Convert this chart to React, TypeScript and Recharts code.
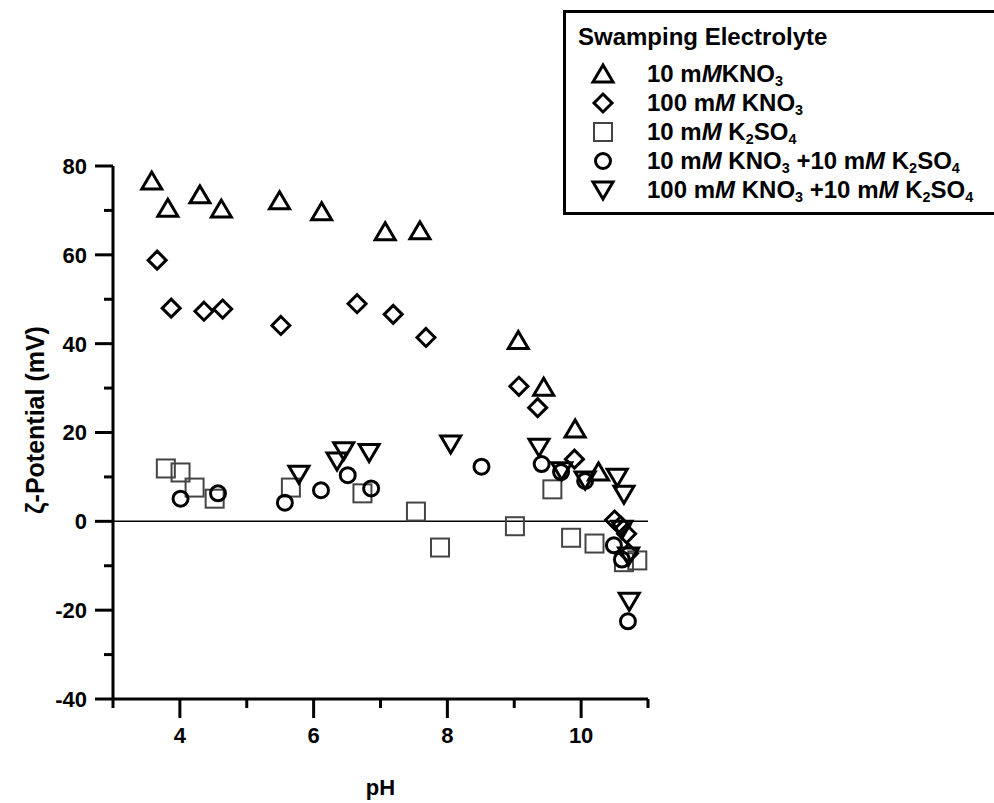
import React from 'react';
import {
  ScatterChart,
  Scatter,
  XAxis,
  YAxis,
  ReferenceLine,
  Legend,
} from 'recharts';

// 10 mM KNO3
const kno3LowPH = [3.58, 3.82, 4.3, 4.62, 5.49, 6.12, 7.07, 7.59, 9.06, 9.44, 9.91, 10.26];
const kno3LowZeta = [76.6, 70.5, 73.5, 70.3, 72.2, 69.7, 65.2, 65.4, 40.7, 30.2, 20.8, 11.1];

// 100 mM KNO3
const kno3HighPH = [3.66, 3.87, 4.36, 4.64, 5.51, 6.65, 7.19, 7.68, 9.07, 9.35, 9.9, 10.5, 10.59, 10.68, 10.71];
const kno3HighZeta = [58.8, 48.0, 47.3, 47.8, 44.1, 49.0, 46.6, 41.4, 30.4, 25.6, 14.0, 0.3, -1.0, -2.8, -7.2];

// 10 mM K2SO4
const k2so4PH = [3.79, 4.01, 4.22, 4.52, 5.66, 6.73, 7.53, 7.89, 9.01, 9.57, 9.85, 10.2, 10.64, 10.84];
const k2so4Zeta = [11.9, 11.0, 7.6, 5.1, 7.6, 6.3, 2.2, -5.9, -1.1, 7.2, -3.7, -5.0, -9.2, -8.8];

// 10 mM KNO3 + 10 mM K2SO4
const mixLowPH = [4.01, 4.57, 5.57, 6.11, 6.51, 6.86, 8.51, 9.41, 9.7, 10.06, 10.49, 10.61, 10.7];
const mixLowZeta = [5.1, 6.3, 4.2, 7.0, 10.4, 7.4, 12.3, 12.9, 11.1, 9.1, -5.4, -8.6, -22.5];

// 100 mM KNO3 + 10 mM K2SO4
const mixHighPH = [5.78, 6.35, 6.45, 6.83, 8.05, 9.37, 9.71, 10.06, 10.54, 10.64, 10.61, 10.71, 10.72];
const mixHighZeta = [10.6, 13.6, 15.9, 15.5, 17.4, 16.7, 11.4, 9.3, 9.9, 6.1, -1.8, -7.8, -18.0];

const xTicks = [3, 4, 5, 6, 7, 8, 9, 10, 11];
const yTicks = [-40, -30, -20, -10, 0, 10, 20, 30, 40, 50, 60, 70, 80];

const FONT = '"Liberation Sans", Arial, sans-serif';

const toPoints = (xs: number[], ys: number[]) => xs.map((x, i) => ({ x, y: ys[i] }));

type MarkerKind = 'up' | 'diamond' | 'square' | 'circle' | 'down';

function Marker({ kind, cx, cy }: { kind: MarkerKind; cx: number; cy: number }) {
  const common = { fill: 'none', stroke: '#000', strokeWidth: 3, strokeLinejoin: 'miter' as const };
  switch (kind) {
    case 'up':
      return <polygon points={`${cx},${cy - 9} ${cx - 10},${cy + 8} ${cx + 10},${cy + 8}`} {...common} />;
    case 'down':
      return <polygon points={`${cx - 10},${cy - 8} ${cx + 10},${cy - 8} ${cx},${cy + 9}`} {...common} />;
    case 'diamond':
      return <polygon points={`${cx},${cy - 9} ${cx + 9},${cy} ${cx},${cy + 9} ${cx - 9},${cy}`} {...common} />;
    case 'square':
      return <rect x={cx - 9} y={cy - 9} width={18} height={18} fill="none" stroke="#444" strokeWidth={2} />;
    default:
      return <circle cx={cx} cy={cy} r={7.5} {...common} />;
  }
}

const shapeOf = (kind: MarkerKind) => (props: any) => <Marker kind={kind} cx={props.cx} cy={props.cy} />;

const legendRows: { kind: MarkerKind; label: React.ReactNode }[] = [
  { kind: 'up', label: <>10 m<i>M</i>KNO<sub>3</sub></> },
  { kind: 'diamond', label: <>100 m<i>M</i> KNO<sub>3</sub></> },
  { kind: 'square', label: <>10 m<i>M</i> K<sub>2</sub>SO<sub>4</sub></> },
  { kind: 'circle', label: <>10 m<i>M</i> KNO<sub>3</sub> +10 m<i>M</i> K<sub>2</sub>SO<sub>4</sub></> },
  { kind: 'down', label: <>100 m<i>M</i> KNO<sub>3</sub> +10 m<i>M</i> K<sub>2</sub>SO<sub>4</sub></> },
];

const subStyle = `.lg sub{font-size:0.6em;vertical-align:-0.3em;line-height:0}`;

function LegendBox() {
  return (
    <div
      className="lg"
      style={{
        borderTop: '3px solid #000',
        borderLeft: '3px solid #000',
        borderBottom: '3px solid #000',
        background: '#fff',
        padding: '9px 12px 8px 12px',
        width: 431,
        boxSizing: 'border-box',
        font: `bold 24px ${FONT}`,
        color: '#000',
        overflow: 'hidden',
      }}
    >
      <style>{subStyle}</style>
      <div style={{ lineHeight: '29px', marginBottom: 8 }}>Swamping Electrolyte</div>
      {legendRows.map((row, i) => (
        <div key={i} style={{ display: 'flex', alignItems: 'center', height: 29 }}>
          <svg width={50} height={26} style={{ flex: 'none' }}>
            <Marker kind={row.kind} cx={25} cy={13} />
          </svg>
          <span style={{ marginLeft: 19, whiteSpace: 'nowrap' }}>{row.label}</span>
        </div>
      ))}
    </div>
  );
}

function XTick(props: any) {
  const { x, y, payload } = props;
  const major = payload.value % 2 === 0;
  return (
    <g>
      <line x1={x} x2={x} y1={y} y2={y + (major ? 19 : 9)} stroke="#000" strokeWidth={3} />
      {major && (
        <text x={x} y={y + 44} textAnchor="middle" fontFamily={FONT} fontWeight="bold" fontSize={22} fill="#000">
          {payload.value}
        </text>
      )}
    </g>
  );
}

function YTick(props: any) {
  const { x, y, payload } = props;
  const major = payload.value % 20 === 0;
  return (
    <g>
      <line x1={x} x2={x - (major ? 18 : 9)} y1={y} y2={y} stroke="#000" strokeWidth={3} />
      {major && (
        <text x={x - 26} y={y} dy="0.36em" textAnchor="end" fontFamily={FONT} fontWeight="bold" fontSize={22} fill="#000">
          {payload.value}
        </text>
      )}
    </g>
  );
}

export default function App() {
  return (
    <div style={{ position: 'absolute', left: 0, top: 0, width: 994, height: 803, overflow: 'hidden', background: '#fff' }}>
      <ScatterChart width={994} height={803} margin={{ top: 166, right: 346, bottom: 0, left: 0 }}>
        <XAxis
          type="number"
          dataKey="x"
          domain={[3, 11]}
          ticks={xTicks}
          interval={0}
          height={104}
          tickSize={0}
          tickMargin={0}
          tickLine={false}
          tick={<XTick />}
          axisLine={{ stroke: '#000', strokeWidth: 3 }}
          label={{
            value: 'pH',
            position: 'insideBottom',
            offset: 8,
            fontFamily: FONT,
            fontWeight: 'bold',
            fontSize: 22,
            fill: '#000',
          }}
        />
        <YAxis
          type="number"
          dataKey="y"
          domain={[-40, 80]}
          ticks={yTicks}
          interval={0}
          width={113}
          tickSize={0}
          tickMargin={0}
          tickLine={false}
          tick={<YTick />}
          axisLine={{ stroke: '#000', strokeWidth: 3 }}
          label={{
            content: () => (
              <text
                x={35}
                y={420}
                transform="rotate(-90 35 420)"
                textAnchor="middle"
                dominantBaseline="central"
                fontFamily={FONT}
                fontWeight="bold"
                fontSize={25}
                fill="#000"
              >
                ζ-Potential (mV)
              </text>
            ),
          }}
        />
        <ReferenceLine y={0} stroke="#000" strokeWidth={1.5} />
        <Legend
          layout="horizontal"
          verticalAlign="middle"
          align="center"
          content={() => <LegendBox />}
          wrapperStyle={{ left: 563, top: 10, width: 431 }}
        />
        <Scatter name="10 mM KNO3" data={toPoints(kno3LowPH, kno3LowZeta)} shape={shapeOf('up')} isAnimationActive={false} />
        <Scatter name="100 mM KNO3" data={toPoints(kno3HighPH, kno3HighZeta)} shape={shapeOf('diamond')} isAnimationActive={false} />
        <Scatter name="10 mM K2SO4" data={toPoints(k2so4PH, k2so4Zeta)} shape={shapeOf('square')} isAnimationActive={false} />
        <Scatter name="10 mM KNO3 +10 mM K2SO4" data={toPoints(mixLowPH, mixLowZeta)} shape={shapeOf('circle')} isAnimationActive={false} />
        <Scatter name="100 mM KNO3 +10 mM K2SO4" data={toPoints(mixHighPH, mixHighZeta)} shape={shapeOf('down')} isAnimationActive={false} />
      </ScatterChart>
    </div>
  );
}
